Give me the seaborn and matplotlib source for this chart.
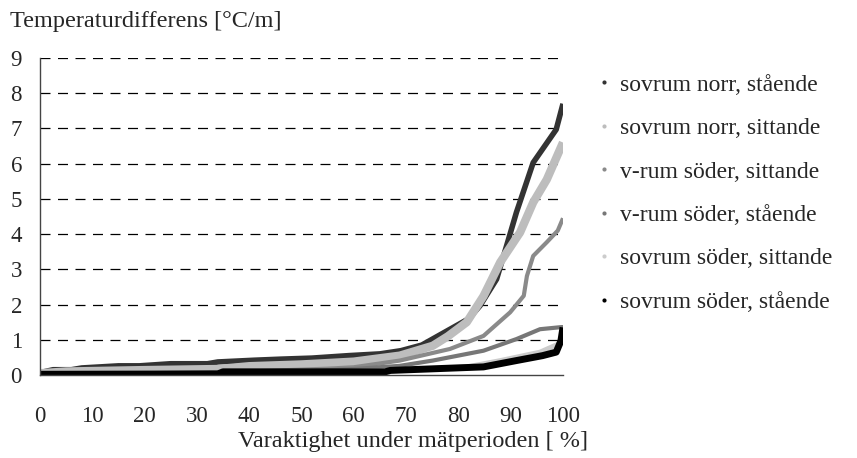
import matplotlib
matplotlib.use("Agg")
import matplotlib.pyplot as plt
from matplotlib.lines import Line2D
import seaborn as sns
import pandas as pd

sns.set_style("white")
plt.rcParams["font.family"] = ["Liberation Serif", "DejaVu Serif"]

labels = ["sovrum norr, stående", "sovrum norr, sittande", "v-rum söder, sittande",
          "v-rum söder, stående", "sovrum söder, sittande", "sovrum söder, stående"]
colors = ["#333333", "#bdbdbd", "#8a8a8a", "#777777", "#cccccc", "#000000"]
widths = [4.0, 6.0, 3.0, 3.0, 3.5, 5.0]

pct_a = [0, 1, 2.5, 6, 8, 15, 19, 25, 32, 34, 41, 46, 52, 59, 65, 69, 73, 78.4, 82, 84.1, 87.3, 89.2, 91.1, 94.3, 96.5, 98.7, 100]
val_a = [0.05, 0.1, 0.15, 0.15, 0.2, 0.26, 0.26, 0.32, 0.32, 0.37, 0.42, 0.45, 0.48, 0.55, 0.6, 0.69, 0.85, 1.3, 1.6, 1.96, 2.72, 3.66, 4.62, 6.03, 6.5, 6.97, 7.7]

pct_b = [0, 5, 20, 34, 40, 50, 60, 68.8, 75.1, 78, 81.6, 84.8, 88, 91.8, 94.3, 96.9, 100]
val_b = [0.05, 0.1, 0.14, 0.17, 0.25, 0.3, 0.38, 0.55, 0.83, 1.1, 1.5, 2.24, 3.2, 4.05, 4.9, 5.55, 6.6]

pct_c = [0, 20, 40, 55, 60, 68.8, 78.4, 84.8, 89.9, 92.5, 93.1, 94.3, 96.9, 99, 100]
val_c = [0.02, 0.05, 0.1, 0.18, 0.22, 0.41, 0.74, 1.11, 1.78, 2.25, 2.81, 3.38, 3.77, 4.1, 4.45]

pct_d = [0, 30, 50, 60, 68.8, 75.1, 84.8, 91.1, 95.6, 99.7, 100]
val_d = [0.02, 0.05, 0.1, 0.17, 0.26, 0.41, 0.69, 1.02, 1.30, 1.36, 1.36]

pct_e = [0, 30, 50, 65, 81.6, 88, 95.6, 99.1, 100]
val_e = [0.02, 0.04, 0.08, 0.12, 0.23, 0.41, 0.65, 0.88, 0.95]

pct_f = [0, 34, 35, 66, 67, 84.8, 91.1, 96.1, 98.7, 99.6, 100]
val_f = [0.02, 0.03, 0.09, 0.09, 0.13, 0.23, 0.41, 0.55, 0.65, 0.97, 1.35]

series = [(pct_a, val_a), (pct_b, val_b), (pct_c, val_c), (pct_d, val_d), (pct_e, val_e), (pct_f, val_f)]

xticks = list(range(0, 101, 10))
yticks = list(range(0, 10))

fig = plt.figure(figsize=(8.57, 4.58), dpi=100)
ax = fig.add_axes([40 / 857, 1 - 375 / 458, 523 / 857, 317 / 458])

for (p, v), lab, c, w in zip(series, labels, colors, widths):
    df = pd.DataFrame({"pct": p, "val": v})
    sns.lineplot(data=df, x="pct", y="val", ax=ax, color=c, lw=w, solid_capstyle="butt")

ax.set_xlim(0, 100)
ax.set_ylim(0, 9)
ax.set_xticks(xticks)
ax.set_yticks(yticks)
ax.set_xlabel("")
ax.set_ylabel("")
for y in yticks[1:]:
    ax.axhline(y, color="black", lw=0.9, ls=(0, (8, 6)), zorder=0.5)
for s in ["top", "right"]:
    ax.spines[s].set_visible(False)
for s in ["left", "bottom"]:
    ax.spines[s].set_color("#444444")
    ax.spines[s].set_linewidth(1.0)
ax.tick_params(axis="x", direction="out", length=6, width=1, color="#444444", labelsize=16.5, pad=16)
ax.tick_params(axis="y", direction="inout", length=10, width=1, color="#444444", labelsize=16.5, pad=8)
ax.set_facecolor("none")

fig.text(10 / 857, 1 - 22 / 458, "Temperaturdifferens [°C/m]", fontsize=17.5, va="center", ha="left")
fig.text(588 / 857, 1 - 442 / 458, "Varaktighet under mätperioden [ %]", fontsize=17.5, va="center", ha="right")

handles = [Line2D([], [], ls="none", marker="o", ms=3, color=c, markeredgewidth=0) for c in colors]
fig.legend(handles, labels, loc="upper left", bbox_to_anchor=(598 / 857, 1 - 74 / 458),
           frameon=False, fontsize=17, labelspacing=0.93, handlelength=0.5, handletextpad=0.45,
           borderaxespad=0, borderpad=0)

fig.savefig("out.png", dpi=100)
